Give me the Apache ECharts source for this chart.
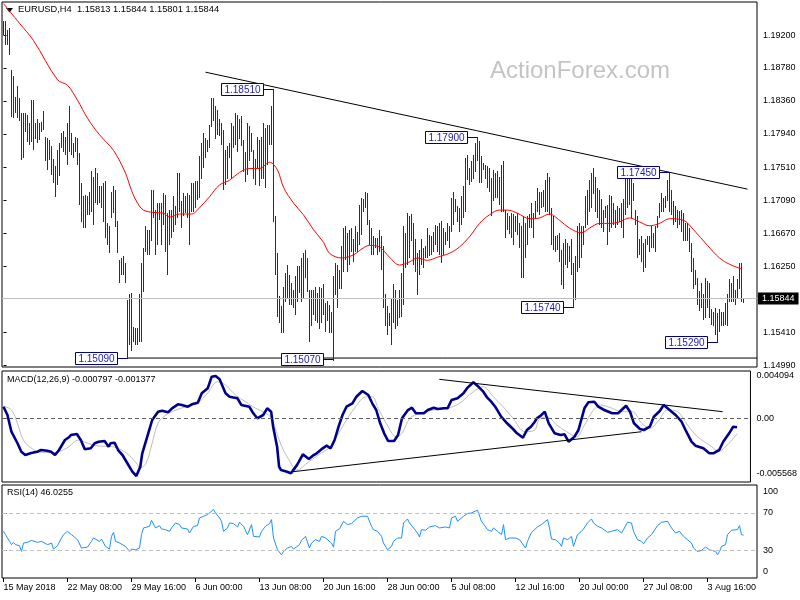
<!DOCTYPE html>
<html><head><meta charset="utf-8">
<script src="https://cdn.jsdelivr.net/npm/echarts@6/dist/echarts.min.js"></script>
<style>html,body{margin:0;padding:0;background:#fff}#c{width:800px;height:600px}</style>
</head><body><div id="c"></div>
<script>
// ---------------- DATA ----------------
const symbolName = 'EURUSD,H4';
const lastOHLC = [1.15813, 1.15844, 1.15801, 1.15844];

const xTickIdx = [0, 32, 64, 96, 128, 160, 192, 224, 256, 288, 320, 352];
const xTickLabels = ['15 May 2018', '22 May 08:00', '29 May 16:00', '6 Jun 00:00', '13 Jun 08:00', '20 Jun 16:00',
  '28 Jun 00:00', '5 Jul 08:00', '12 Jul 16:00', '20 Jul 00:00', '27 Jul 08:00', '3 Aug 16:00'];

const priceTickLabels = ['1.14990', '1.15410', '1.16250', '1.16670', '1.17090', '1.17510', '1.17940', '1.18360', '1.18780', '1.19200'];
const macdTickLabels = ['-0.005568', '0.00', '0.004094'];
const rsiTickLabels = ['0', '30', '70', '100'];

const highs = [
1.1937,1.1937,1.1926,1.1928,1.1875,1.1867,1.1841,1.1854,1.1839,1.1820,
1.1820,1.1820,1.1818,1.1807,1.1837,1.1837,1.1807,1.1812,1.1807,1.1809,
1.1822,1.1790,1.1788,1.1786,1.1778,1.1761,1.1752,1.1773,1.1782,1.1795,
1.1797,1.1790,1.1807,1.1829,1.1795,1.1782,1.1790,1.1788,1.1769,1.1731,
1.1714,1.1716,1.1714,1.1720,1.1746,1.1739,1.1750,1.1744,1.1727,1.1727,
1.1731,1.1733,1.1680,1.1676,1.1720,1.1727,1.1722,1.1682,1.1633,1.1635,
1.1638,1.1629,1.1582,1.1589,1.1591,1.1548,1.1546,1.1546,1.1589,1.1629,
1.1648,1.1676,1.1671,1.1671,1.1722,1.1722,1.1697,1.1705,1.1705,1.1705,
1.1718,1.1716,1.1693,1.1697,1.1697,1.1714,1.1701,1.1744,1.1744,1.1708,
1.1718,1.1714,1.1718,1.1716,1.1731,1.1731,1.1733,1.1733,1.1765,1.1782,
1.1795,1.1788,1.1786,1.1805,1.1839,1.1839,1.1829,1.1824,1.1812,1.1807,
1.1799,1.1773,1.1778,1.1782,1.1807,1.1803,1.1820,1.1818,1.1812,1.1816,
1.1786,1.1771,1.1807,1.1803,1.1795,1.1773,1.1761,1.1790,1.1786,1.1790,
1.1807,1.1801,1.1805,1.1805,1.1829,1.1851,1.1689,1.1642,1.1587,1.1574,
1.1599,1.1616,1.1627,1.1614,1.1604,1.1595,1.1612,1.1625,1.1625,1.1635,
1.1642,1.1646,1.1635,1.1595,1.1595,1.1595,1.1599,1.1591,1.1599,1.1597,
1.1602,1.1578,1.1580,1.1576,1.1567,1.1612,1.1629,1.1627,1.1620,1.1650,
1.1674,1.1676,1.1667,1.1671,1.1674,1.1659,1.1676,1.1669,1.1703,1.1712,
1.1710,1.1720,1.1718,1.1684,1.1674,1.1663,1.1661,1.1661,1.1671,1.1663,
1.1650,1.1589,1.1574,1.1565,1.1584,1.1602,1.1595,1.1582,1.1595,1.1616,
1.1676,1.1667,1.1693,1.1689,1.1691,1.1680,1.1659,1.1642,1.1646,1.1659,
1.1648,1.1650,1.1674,1.1665,1.1663,1.1669,1.1678,1.1676,1.1680,1.1682,
1.1674,1.1669,1.1680,1.1676,1.1712,1.1720,1.1710,1.1701,1.1699,1.1714,
1.1727,1.1763,1.1767,1.1750,1.1759,1.1767,1.1782,1.1790,1.1784,1.1765,
1.1756,1.1754,1.1752,1.1750,1.1737,1.1748,1.1744,1.1746,1.1739,1.1754,
1.1759,1.1697,1.1693,1.1689,1.1693,1.1691,1.1689,1.1693,1.1680,1.1676,
1.1689,1.1680,1.1689,1.1691,1.1705,1.1693,1.1708,1.1725,1.1720,1.1720,
1.1722,1.1735,1.1744,1.1739,1.1699,1.1689,1.1663,1.1665,1.1667,1.1646,
1.1655,1.1659,1.1655,1.1650,1.1659,1.1629,1.1638,1.1676,1.1680,1.1676,
1.1676,1.1714,1.1722,1.1735,1.1744,1.1750,1.1739,1.1725,1.1722,1.1710,
1.1697,1.1701,1.1703,1.1716,1.1714,1.1705,1.1697,1.1701,1.1699,1.1705,
1.1710,1.1739,1.1744,1.1739,1.1739,1.1731,1.1697,1.1689,1.1659,1.1663,
1.1655,1.1659,1.1663,1.1663,1.1676,1.1667,1.1676,1.1689,1.1705,1.1718,
1.1712,1.1714,1.1735,1.1745,1.1722,1.1708,1.1701,1.1697,1.1695,1.1697,
1.1693,1.1680,1.1680,1.1674,1.1655,1.1635,1.1620,1.1610,1.1593,1.1604,
1.1589,1.1610,1.1606,1.1604,1.1570,1.1567,1.1572,1.1565,1.1570,1.1567,
1.1567,1.1578,1.1589,1.1608,1.1604,1.1612,1.1595,1.1608,1.1629,1.1629,
1.15844];

const lows = [
1.1922,1.1909,1.1909,1.1896,1.1818,1.1816,1.1822,1.1816,1.1812,1.1763,
1.1765,1.1799,1.1786,1.1782,1.1786,1.1775,1.1790,1.1784,1.1788,1.1799,
1.1801,1.1761,1.1750,1.1763,1.1744,1.1733,1.1716,1.1731,1.1742,1.1778,
1.1773,1.1769,1.1756,1.1773,1.1769,1.1765,1.1773,1.1756,1.1705,1.1684,
1.1676,1.1676,1.1693,1.1693,1.1697,1.1680,1.1708,1.1705,1.1708,1.1701,
1.1684,1.1663,1.1655,1.1644,1.1689,1.1695,1.1678,1.1644,1.1606,1.1616,
1.1616,1.1606,1.1509,1.1527,1.1519,1.1531,1.1527,1.1527,1.1531,1.1531,
1.1595,1.1646,1.1642,1.1642,1.1659,1.1689,1.1642,1.1655,1.1686,1.1655,
1.1680,1.1646,1.1616,1.1655,1.1663,1.1671,1.1680,1.1689,1.1697,1.1676,
1.1691,1.1695,1.1689,1.1655,1.1697,1.1697,1.1701,1.1712,1.1714,1.1739,
1.1752,1.1765,1.1773,1.1778,1.1805,1.1812,1.1790,1.1795,1.1793,1.1782,
1.1725,1.1731,1.1739,1.1765,1.1739,1.1778,1.1782,1.1773,1.1790,1.1780,
1.1748,1.1735,1.1744,1.1761,1.1773,1.1739,1.1731,1.1752,1.1729,1.1739,
1.1739,1.1727,1.1756,1.1782,1.1782,1.1684,1.1616,1.1563,1.1555,1.1542,
1.1542,1.1582,1.1587,1.1578,1.1578,1.1574,1.1565,1.1582,1.1593,1.1582,
1.1587,1.1612,1.1595,1.1531,1.1551,1.1565,1.1557,1.1555,1.1548,1.1555,
1.1565,1.1544,1.1557,1.1542,1.1542,1.1507,1.1591,1.1574,1.1599,1.1599,
1.1620,1.1635,1.1620,1.1629,1.1646,1.1633,1.1646,1.1646,1.1655,1.1667,
1.1697,1.1701,1.1680,1.1655,1.1642,1.1642,1.1650,1.1642,1.1646,1.1622,
1.1574,1.1551,1.1540,1.1551,1.1527,1.1555,1.1548,1.1551,1.1561,1.1563,
1.1578,1.1625,1.1629,1.1638,1.1659,1.1629,1.1620,1.1591,1.1616,1.1629,
1.1625,1.1638,1.1638,1.1640,1.1642,1.1646,1.1655,1.1646,1.1642,1.1631,
1.1642,1.1655,1.1659,1.1650,1.1671,1.1680,1.1697,1.1684,1.1671,1.1680,
1.1689,1.1697,1.1737,1.1731,1.1735,1.1739,1.1748,1.1761,1.1733,1.1733,
1.1750,1.1739,1.1727,1.1722,1.1691,1.1710,1.1714,1.1714,1.1705,1.1697,
1.1697,1.1663,1.1674,1.1669,1.1663,1.1655,1.1671,1.1667,1.1650,1.1612,
1.1612,1.1638,1.1655,1.1676,1.1676,1.1663,1.1689,1.1697,1.1693,1.1701,
1.1703,1.1697,1.1697,1.1693,1.1655,1.1648,1.1646,1.1648,1.1633,1.1604,
1.1599,1.1629,1.1625,1.1633,1.1616,1.1574,1.1584,1.1620,1.1625,1.1638,
1.1655,1.1676,1.1680,1.1697,1.1701,1.1720,1.1697,1.1689,1.1680,1.1676,
1.1671,1.1689,1.1655,1.1671,1.1676,1.1680,1.1676,1.1680,1.1684,1.1676,
1.1663,1.1693,1.1701,1.1705,1.1689,1.1710,1.1680,1.1638,1.1642,1.1633,
1.1620,1.1625,1.1655,1.1646,1.1650,1.1650,1.1646,1.1676,1.1689,1.1697,
1.1697,1.1701,1.1710,1.1697,1.1693,1.1680,1.1684,1.1676,1.1680,1.1671,
1.1659,1.1659,1.1659,1.1646,1.1620,1.1599,1.1604,1.1578,1.1570,1.1574,
1.1559,1.1561,1.1574,1.1561,1.1553,1.1551,1.1540,1.1529,1.1544,1.1551,
1.1551,1.1553,1.1551,1.1582,1.1582,1.1582,1.1578,1.1587,1.1599,1.1582,
1.15801];

// moving average (red) sampled along the chart: [bar index, price]
const maIdx = [0,8,15,27,32,37,42,48,55,61,64,67,70,75,80,83,88,94,98,103,108,113,118,123,128,132,133,137,140,145,
  150,155,160,163,169,175,180,183,188,193,198,203,207,212,217,223,228,233,238,243,248,252,257,263,268,273,278,283,289,293,
  298,303,308,313,318,323,328,333,340,345,352,358,363,369];
const maVal = [1.1960,1.1935,1.1913,1.1863,1.1856,1.1837,1.1814,1.1793,1.1773,1.1744,1.1722,1.1706,1.1697,1.1694,1.1693,1.1688,1.1692,1.1692,1.1700,1.1714,
  1.1729,1.1735,1.1745,1.1750,1.1750,1.1757,1.1758,1.1748,1.1726,1.1706,1.1691,1.1672,1.1656,1.1642,1.1636,1.1640,1.1649,1.1652,1.1650,1.1637,
  1.1627,1.1631,1.1636,1.1633,1.1637,1.1642,1.1650,1.1663,1.1680,1.1691,1.1697,1.1697,1.1693,1.1686,1.1687,1.1692,1.1684,1.1674,1.1668,1.1674,
  1.1680,1.1680,1.1682,1.1687,1.1682,1.1677,1.1680,1.1686,1.1684,1.1672,1.1652,1.1636,1.1628,1.1622];

// labelled swing points
const swingIdx = [62, 135, 165, 237, 285, 333, 357];
const swingPrice = [1.15090, 1.18510, 1.15070, 1.17900, 1.15740, 1.17450, 1.15290];

// trendlines (main)
const resistanceLine = [[101, 1.18727], [372, 1.17237]];
const supportLevel = 1.15085;
const supportStart = 62;

// MACD main line and signal: [bar index, value]
const macdLine = [[0,0.000986],[2,0.000264],[4,-0.001190],[7,-0.002174],[9,-0.002931],[11,-0.003218],[14,-0.003044],[17,-0.002931],[19,-0.002783],[22,-0.002844],
[24,-0.002931],[26,-0.003218],[28,-0.002783],[31,-0.001912],[33,-0.001677],[34,-0.001477],[37,-0.001390],[39,-0.001912],[41,-0.002722],[44,-0.002635],
[46,-0.002200],[48,-0.002060],[51,-0.002000],[53,-0.002496],[54,-0.002200],[56,-0.002147],[58,-0.002844],[60,-0.003218],[63,-0.004089],[65,-0.004672],
[67,-0.005046],[69,-0.004237],[70,-0.003070],[73,-0.001329],[75,-0.000171],[78,0.000551],[80,0.000638],[83,0.000499],[85,0.000847],[88,0.001195],
[90,0.001134],[93,0.000986],[95,0.001195],[98,0.001335],[100,0.002153],[103,0.002588],[105,0.003598],[107,0.003659],[109,0.003371],[112,0.002153],
[114,0.001857],[118,0.001718],[120,0.001134],[124,0.000986],[126,0.000412],[128,-0.000023],[131,0.000264],[133,0.000847],[135,0.000551],[136,-0.000755],
[138,-0.002496],[139,-0.004237],[140,-0.004524],[143,-0.004672],[145,-0.004811],[148,-0.004100],[149,-0.003801],[151,-0.003157],[154,-0.003566],[156,-0.003279],
[158,-0.003070],[161,-0.002635],[163,-0.002409],[165,-0.002635],[167,-0.001912],[169,-0.000755],[171,0.000264],[173,0.000986],[176,0.001282],[178,0.001857],
[181,0.002353],[184,0.002005],[186,0.001282],[188,0.000699],[190,-0.000459],[192,-0.001329],[194,-0.002000],[197,-0.002000],[199,-0.001477],[201,-0.000023],
[204,0.000699],[206,0.000899],[208,0.000412],[209,0.000264],[212,0.000412],[214,0.000699],[217,0.000899],[219,0.000786],[222,0.000847],[224,0.000847],
[226,0.001570],[229,0.001718],[232,0.002153],[234,0.002640],[237,0.003110],[239,0.002814],[242,0.002292],[244,0.001770],[246,0.001422],[248,0.000986],
[251,0.000116],[254,-0.000459],[257,-0.000955],[259,-0.001329],[262,-0.001712],[264,-0.001042],[266,-0.000755],[268,-0.000319],[269,-0.000023],[271,0.000203],
[273,0.000551],[275,-0.000459],[278,-0.001329],[281,-0.001477],[283,-0.001416],[285,-0.002060],[288,-0.001625],[290,-0.001042],[293,0.000847],[295,0.001369],
[298,0.001422],[300,0.000986],[303,0.000699],[307,0.000412],[310,0.000412],[314,0.001073],[316,0.000551],[318,-0.000459],[321,-0.000955],[323,-0.001042],
[326,-0.000755],[328,0.000116],[331,0.000612],[333,0.001134],[337,0.000551],[339,0.000264],[342,-0.000319],[344,-0.001042],[347,-0.002060],[349,-0.002409],
[353,-0.002635],[356,-0.003070],[358,-0.003070],[361,-0.002783],[363,-0.002060],[366,-0.001329],[368,-0.000755],[370,-0.000797]];

const signalLine = [[0,0.001047],[4,0.000699],[7,-0.000433],[10,-0.001912],[14,-0.002609],[18,-0.002957],[25,-0.003018],[32,-0.002609],[38,-0.001912],[42,-0.002174],
[48,-0.002435],[55,-0.002496],[62,-0.003044],[67,-0.003915],[69,-0.004350],[72,-0.003915],[75,-0.002174],[78,-0.000433],[82,0.000264],[87,0.000699],
[93,0.001047],[98,0.001308],[103,0.002179],[108,0.003163],[112,0.002875],[117,0.002005],[122,0.001422],[127,0.000873],[132,0.000438],[135,0.000003],
[140,-0.002348],[144,-0.003653],[148,-0.004524],[154,-0.003801],[160,-0.003070],[165,-0.002496],[168,-0.001625],[172,-0.000459],[177,0.000847],[183,0.001857],
[186,0.001857],[189,0.000847],[194,-0.000755],[198,-0.001625],[201,-0.001329],[205,-0.000023],[210,0.000412],[217,0.000699],[224,0.000847],[230,0.001282],
[237,0.002292],[242,0.002727],[247,0.001857],[252,0.000986],[257,-0.000023],[263,-0.001190],[268,-0.001042],[270,-0.000171],[274,0.000116],[279,-0.000607],
[284,-0.001190],[289,-0.001625],[293,-0.000607],[297,0.000551],[301,0.001134],[307,0.000847],[312,0.000551],[317,0.000551],[322,-0.000459],[326,-0.000894],
[330,-0.000319],[335,0.000699],[340,0.000551],[345,-0.000607],[350,-0.001625],[356,-0.002348],[361,-0.002870],[365,-0.002348],[370,-0.001377]];

const macdUpperTL = [[219.8, 0.003371], [362.7, 0.000551]];
const macdLowerTL = [[146, -0.004672], [321.8, -0.001190]];
const macdRange = [-0.005568, 0.004094];

const rsiLine = [[0,50.2],[1,46.6],[3,39.4],[4,35.8],[5,38.3],[6,35.8],[8,34.7],[9,28.6],[10,37.6],[12,38.3],[14,40.4],[15,39.4],[17,38.3],[19,39.4],[20,40.4],
[22,35.8],[24,37.6],[25,31.1],[27,34.7],[29,43.0],[30,46.6],[32,50.2],[34,46.6],[35,45.5],[37,41.2],[39,32.2],[40,30.4],[42,33.2],[44,39.4],[45,43.0],
[46,41.2],[48,39.4],[49,41.9],[51,34.0],[53,31.1],[54,44.8],[55,49.1],[56,39.4],[58,37.6],[59,35.8],[61,34.0],[63,28.6],[64,31.1],[66,30.4],[68,32.2],
[69,46.6],[70,53.8],[73,55.6],[74,62.1],[76,53.8],[78,56.3],[79,52.7],[81,52.0],[83,50.2],[84,53.8],[86,59.2],[88,57.4],[89,53.8],[90,54.9],[92,52.7],
[93,48.4],[95,55.6],[97,56.3],[98,64.6],[100,66.4],[102,68.2],[103,70.0],[105,73.6],[106,70.0],[108,64.6],[109,61.0],[110,50.2],[112,53.8],[113,59.2],[115,58.5],
[117,54.9],[118,59.9],[120,55.6],[122,46.6],[124,57.4],[125,44.8],[128,44.1],[129,50.2],[131,55.6],[133,58.5],[134,62.8],[135,43.0],[137,30.4],[139,25.0],[140,28.6],
[142,32.2],[144,34.0],[145,31.1],[148,35.8],[149,40.4],[151,44.8],[153,32.2],[154,37.6],[156,41.2],[158,39.4],[159,44.8],[161,43.0],[164,37.6],[165,33.2],[166,50.2],
[168,52.7],[169,53.8],[170,61.0],[172,57.4],[174,58.5],[175,59.2],[177,64.6],[179,66.4],[180,68.2],[182,66.4],[184,55.6],[185,52.0],[187,50.2],[189,44.8],[190,37.6],
[192,30.4],[194,34.0],[195,39.4],[197,43.0],[199,43.0],[200,59.2],[202,63.5],[203,59.2],[205,53.8],[207,48.4],[208,44.1],[209,52.0],[211,51.3],[213,54.9],[214,53.8],
[216,56.3],[218,53.8],[219,52.0],[221,54.9],[223,53.8],[224,64.6],[226,66.4],[227,61.0],[228,59.2],[230,66.4],[232,69.3],[234,70.0],[235,70.7],[237,72.9],[239,61.0],
[240,62.8],[242,52.0],[244,50.2],[245,53.8],[247,50.2],[249,46.6],[250,57.4],[251,41.2],[253,43.0],[254,41.9],[256,43.0],[258,41.2],[259,39.4],[261,32.2],[262,39.4],
[264,49.1],[265,50.2],[267,54.9],[269,57.4],[270,56.3],[272,62.8],[273,53.8],[274,41.9],[276,41.2],[278,37.6],[279,34.0],[280,43.0],[282,41.2],[284,44.8],[285,34.0],
[287,46.6],[289,50.2],[290,52.7],[292,59.2],[294,63.5],[295,59.2],[297,55.6],[299,53.8],[300,52.0],[302,49.1],[304,50.2],[305,50.2],[307,52.0],[309,48.4],[310,52.0],
[312,59.9],[314,59.2],[315,50.2],[317,41.2],[319,39.4],[320,36.8],[322,43.0],[324,46.6],[325,46.6],[327,56.3],[329,59.9],[330,59.2],[332,61.0],[333,62.1],[334,53.8],
[336,48.4],[338,50.2],[339,49.1],[340,44.8],[342,41.2],[344,37.6],[345,32.2],[347,28.6],[349,29.6],[350,28.6],[351,33.2],[353,30.4],[354,28.6],[356,28.6],[357,25.0],
[358,28.6],[359,34.0],[361,35.8],[362,46.6],[364,51.3],[365,50.2],[367,52.0],[368,56.3],[369,46.6],[370,46.0]];
const rsiLast = 46.0255;
const rsiLevels = [30, 70];

// ---------------- CHART ----------------
const FONT = '"Liberation Sans", Arial, sans-serif';
const BAR_COLOR = '#0f3a57';
const X_MIN = -0.75, X_MAX = 376.75;
const Y_MIN = 1.14971, Y_MAX = 1.19621;

const barData = highs.map((h, i) => [i, h, lows[i]]);
const maData = maIdx.map((x, k) => [x, maVal[k]]);
const swingData = swingIdx.map((x, k) => [x, swingPrice[k]]);
const lastClose = lastOHLC[3];

function renderBar(params, api) {
  const x = api.value(0);
  const a = api.coord([x, api.value(1)]);
  const b = api.coord([x, api.value(2)]);
  const px = Math.floor(a[0]) + 0.5;
  return { type: 'line', shape: { x1: px, y1: Math.floor(a[1]), x2: px, y2: Math.ceil(b[1]) + 1 },
    style: { stroke: BAR_COLOR, lineWidth: 1 } };
}
function renderSwing(params, api) {
  const p = api.coord([api.value(0), api.value(1)]);
  const bx = Math.floor(p[0]) + 0.5;
  const y = Math.round(p[1]) + 0.5;
  const right = bx - 10, w = 42, h = 12;
  const txt = swingPrice[params.dataIndex].toFixed(5);
  return { type: 'group', children: [
    { type: 'line', shape: { x1: right, y1: y, x2: bx, y2: y }, style: { stroke: '#000080', lineWidth: 1 } },
    { type: 'rect', shape: { x: right - w, y: y - 6, width: w, height: h }, style: { fill: '#fff', stroke: '#000080', lineWidth: 1 } },
    { type: 'text', style: { x: right - w / 2, y: y + 0.5, text: txt, fill: '#1c1cb0', font: '10px ' + FONT,
      align: 'center', verticalAlign: 'middle', textAlign: 'center', textVerticalAlign: 'middle' } }
  ] };
}

const gridStyle = { show: true, borderColor: '#000', borderWidth: 1, backgroundColor: '#fff' };
function xAx(gi, show) {
  return { type: 'value', gridIndex: gi, min: X_MIN, max: X_MAX,
    axisLine: { show: false }, splitLine: { show: false },
    axisTick: { show: show, customValues: xTickIdx, length: 4, lineStyle: { color: '#000' } },
    axisLabel: { show: show, customValues: xTickIdx, formatter: v => xTickLabels[xTickIdx.indexOf(Math.round(v))] || '',
      align: 'left', margin: 5, fontSize: 9, fontFamily: FONT, color: '#000' } };
}
const lbl = { fontSize: 9, fontFamily: FONT, color: '#000', margin: 6 };

const macdLabelPos = [macdRange[0] + 0.0007, 0, macdRange[1] - 0.00035];
const rsiLabelPos = [6.5, 30, 70, 93.5];

const option = {
  animation: false,
  backgroundColor: '#fff',
  title: [
    { text: symbolName + '  ' + lastOHLC.map(v => v.toFixed(5)).join(' '), left: 18, top: 5, padding: 0,
      textStyle: { fontSize: 9.3, fontWeight: 'normal', fontFamily: FONT, color: '#000' } },
    { text: 'ActionForex.com', left: 490, top: 59, padding: 0,
      textStyle: { fontSize: 24, fontWeight: 'normal', fontFamily: FONT, color: '#c4c4c4' } },
    { text: 'MACD(12,26,9) ' + macdLine[macdLine.length - 1][1].toFixed(6) + ' ' + signalLine[signalLine.length - 1][1].toFixed(6),
      left: 7, top: 375, padding: 0, textStyle: { fontSize: 9, fontWeight: 'normal', fontFamily: FONT, color: '#000' } },
    { text: 'RSI(14) ' + rsiLast.toFixed(4), left: 7, top: 488, padding: 0,
      textStyle: { fontSize: 9, fontWeight: 'normal', fontFamily: FONT, color: '#000' } }
  ],
  graphic: [
    { type: 'polygon', shape: { points: [[6, 8], [13, 8], [9.5, 12.5]] }, style: { fill: '#000' } }
  ],
  grid: [
    Object.assign({ left: 2, top: 2, width: 755, height: 365 }, gridStyle),
    Object.assign({ left: 2, top: 371, width: 755, height: 111 }, gridStyle),
    Object.assign({ left: 2, top: 485, width: 755, height: 93 }, gridStyle)
  ],
  xAxis: [xAx(0, false), xAx(1, false), xAx(2, true)],
  yAxis: [
    { type: 'value', gridIndex: 0, position: 'right', min: Y_MIN, max: Y_MAX,
      axisLine: { show: false }, splitLine: { show: false },
      axisTick: { show: true, customValues: priceTickLabels.map(Number), length: 3, lineStyle: { color: '#000' } },
      axisLabel: Object.assign({ customValues: priceTickLabels.map(Number), formatter: v => v.toFixed(5) }, lbl) },
    { type: 'value', gridIndex: 1, position: 'right', min: macdRange[0], max: macdRange[1],
      axisLine: { show: false }, splitLine: { show: false },
      axisTick: { show: true, customValues: [0], length: 3, lineStyle: { color: '#000' } },
      axisLabel: Object.assign({ customValues: macdLabelPos,
        formatter: v => v > 0.001 ? macdTickLabels[2] : (v < -0.001 ? macdTickLabels[0] : macdTickLabels[1]) }, lbl) },
    { type: 'value', gridIndex: 2, position: 'right', min: 0, max: 100,
      axisLine: { show: false }, splitLine: { show: false },
      axisTick: { show: true, customValues: rsiLevels, length: 3, lineStyle: { color: '#000' } },
      axisLabel: Object.assign({ customValues: rsiLabelPos,
        formatter: v => v > 90 ? rsiTickLabels[3] : (v < 10 ? rsiTickLabels[0] : (v < 50 ? rsiTickLabels[1] : rsiTickLabels[2])) }, lbl) }
  ],
  series: [
    { type: 'line', xAxisIndex: 0, yAxisIndex: 0, z: 1, silent: true, symbol: 'none',
      data: [[supportStart, supportLevel], [X_MAX, supportLevel]], lineStyle: { color: '#000', width: 1 },
      markLine: { silent: true, symbol: 'none', precision: 5, data: [{ yAxis: lastClose }],
        lineStyle: { color: '#c0c0c0', type: 'solid', width: 1 },
        label: { position: 'end', formatter: lastClose.toFixed(5), backgroundColor: '#000', color: '#fff',
          padding: [2, 4, 1, 4], fontSize: 9, fontFamily: FONT, distance: 1 } } },
    { type: 'custom', xAxisIndex: 0, yAxisIndex: 0, z: 3, silent: true, clip: true,
      renderItem: renderBar, data: barData, encode: { x: 0, y: [1, 2] } },
    { type: 'line', xAxisIndex: 0, yAxisIndex: 0, z: 4, silent: true, symbol: 'none', smooth: 0.35,
      data: maData, lineStyle: { color: '#ff0000', width: 1 } },
    { type: 'line', xAxisIndex: 0, yAxisIndex: 0, z: 4, silent: true, symbol: 'none',
      data: resistanceLine, lineStyle: { color: '#000', width: 1 } },
    { type: 'custom', xAxisIndex: 0, yAxisIndex: 0, z: 5, silent: true, clip: false,
      renderItem: renderSwing, data: swingData, encode: { x: 0, y: 1 } },

    { type: 'line', xAxisIndex: 1, yAxisIndex: 1, z: 2, silent: true, symbol: 'none', smooth: 0.35,
      data: signalLine, lineStyle: { color: '#bdbdbd', width: 1 },
      markLine: { silent: true, symbol: 'none', precision: 6, data: [{ yAxis: 0 }], label: { show: false },
        lineStyle: { color: '#606060', type: [4, 3], width: 1 } } },
    { type: 'line', xAxisIndex: 1, yAxisIndex: 1, z: 3, silent: true, symbol: 'none',
      data: macdLine, lineStyle: { color: '#00008b', width: 2.6 } },
    { type: 'line', xAxisIndex: 1, yAxisIndex: 1, z: 4, silent: true, symbol: 'none',
      data: macdUpperTL, lineStyle: { color: '#000', width: 1 } },
    { type: 'line', xAxisIndex: 1, yAxisIndex: 1, z: 4, silent: true, symbol: 'none',
      data: macdLowerTL, lineStyle: { color: '#000', width: 1 } },

    { type: 'line', xAxisIndex: 2, yAxisIndex: 2, z: 3, silent: true, symbol: 'none',
      data: rsiLine, lineStyle: { color: '#1e90ff', width: 1 },
      markLine: { silent: true, symbol: 'none', data: rsiLevels.map(v => ({ yAxis: v })), label: { show: false },
        lineStyle: { color: '#c0c0c0', type: [4, 3], width: 1 } } }
  ]
};
const chart = echarts.init(document.getElementById('c'), null, { renderer: 'canvas' });
chart.setOption(option);
</script>
</body></html>
